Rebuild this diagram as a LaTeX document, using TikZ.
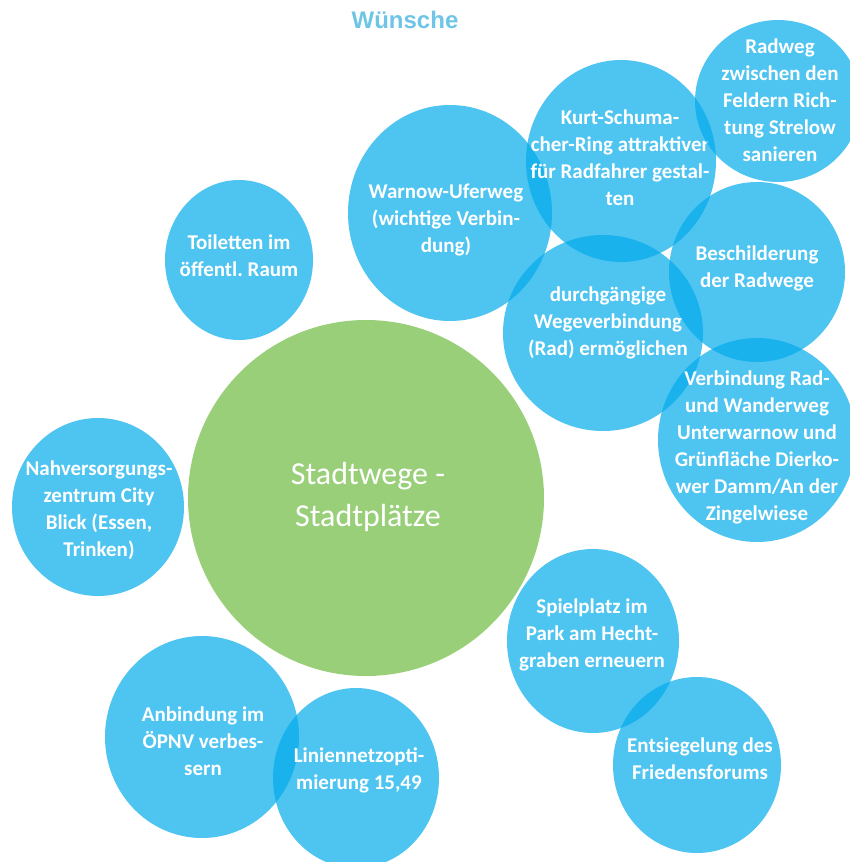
\documentclass[tikz,border=0pt]{standalone}
\usepackage{fontspec}
\setmainfont{Carlito}
\newfontfamily\titlefont{Liberation Sans}
\definecolor{bubblue}{RGB}{4,171,236}
\definecolor{bubgreen}{RGB}{154,207,122}
\definecolor{titleblue}{RGB}{110,197,230}
\frenchspacing
\begin{document}
\begin{tikzpicture}[x=1pt,y=-1pt,
  bub/.style={fill=bubblue, fill opacity=0.7},
  btxt/.style={text=white, font=\bfseries\fontsize{21}{27}\selectfont, align=center, inner sep=0pt},
  gtxt/.style={text=white, font=\fontsize{32}{42}\selectfont, align=center, inner sep=0pt}]
\useasboundingbox (0,0) rectangle (849,862);
\fill[white] (0,0) rectangle (849,862);

\node[text=titleblue, font=\titlefont\bfseries\fontsize{24}{28}\selectfont, inner sep=0pt] (title) at (405,20) {Wünsche};

% Toiletten
\fill[bub] (239,260) ellipse [x radius=74, y radius=80];
\node[btxt] (toil) at (239,256) {Toiletten im\\öffentl. Raum};

% Warnow
\fill[bub] (450,213) ellipse [x radius=102, y radius=108];
\node[btxt] (warnow) at (446,220) {Warnow-Uferweg\\(wichtige Verbin-\\dung)};

% durchgaengige
\fill[bub] (603,333) ellipse [x radius=100, y radius=98];
\node[btxt] (durch) at (608,323) {durchgängige\\Wegeverbindung\\(Rad) ermöglichen};

% Kurt
\fill[bub] (621,161) ellipse [x radius=95, y radius=101];
\node[btxt] (kurt) at (620,158) {Kurt-Schuma-\\cher-Ring attraktiver\\für Radfahrer gestal-\\ten};

% Radweg
\fill[bub] (778,101) ellipse [x radius=83, y radius=81];
\node[btxt] (radweg) at (780,100) {Radweg\\zwischen den\\Feldern Rich-\\tung Strelow\\sanieren};

% Beschilderung
\fill[bub] (757,272) ellipse [x radius=88, y radius=90];
\node[btxt] (besch) at (757,268) {Beschilderung\\der Radwege};

% Verbindung
\fill[bub] (757,440) ellipse [x radius=99, y radius=102];
\node[btxt] (verb) at (757,447) {Verbindung Rad-\\und Wanderweg\\Unterwarnow und\\Grünfläche Dierko-\\wer Damm/An der\\Zingelwiese};

% Nahversorgung
\fill[bub] (98,507) ellipse [x radius=86, y radius=89];
\node[btxt] (nahv) at (99,510) {Nahversorgungs-\\zentrum City\\Blick (Essen,\\Trinken)};

% Green centre
\fill[bubgreen] (366,498) ellipse [x radius=178, y radius=178];
\node[gtxt] (centre) at (368,497) {Stadtwege -\\Stadtplätze};

% Spielplatz
\fill[bub] (593,641) ellipse [x radius=86, y radius=92];
\node[btxt] (spiel) at (592,635) {Spielplatz im\\Park am Hecht-\\graben erneuern};

% Entsiegelung
\fill[bub] (697,765) ellipse [x radius=84, y radius=88];
\node[btxt] (ents) at (700,759) {Entsiegelung des\\Friedensforums};

% Anbindung
\fill[bub] (202,737) ellipse [x radius=97, y radius=101];
\node[btxt] (anb) at (203,741) {Anbindung im\\ÖPNV verbes-\\sern};

% Liniennetz
\fill[bub] (356,778) ellipse [x radius=83, y radius=90];
\node[btxt] (linie) at (359,770) {Liniennetzopti-\\mierung 15,49};
\end{tikzpicture}
\end{document}
